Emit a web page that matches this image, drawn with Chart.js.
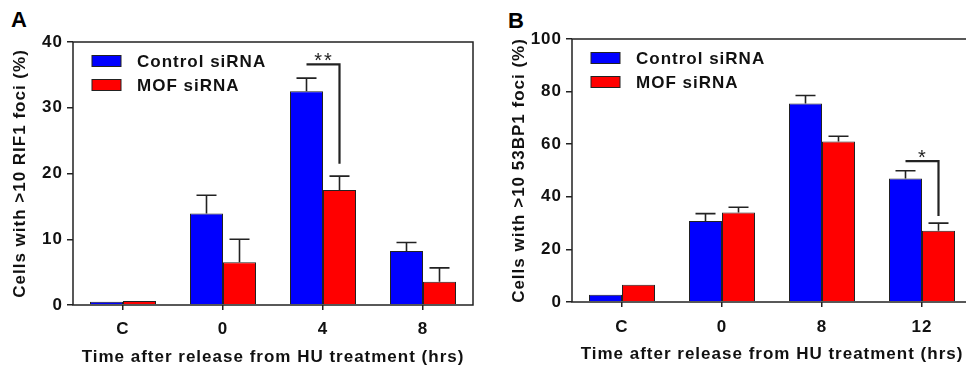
<!DOCTYPE html>
<html>
<head>
<meta charset="utf-8">
<script src="https://cdn.jsdelivr.net/npm/chart.js@4.4.0/dist/chart.umd.min.js"></script>
<style>
    html, body { margin: 0; padding: 0; background: #fff; overflow: hidden; width: 966px; height: 367px; }
    .panel { position: absolute; top: 0; height: 367px; }
    #panelA { left: 0; width: 483px; }
    #panelB { left: 486px; width: 500px; }
    .letter { position: absolute; font: bold 22px Arial, "Liberation Sans", sans-serif; color: #000; line-height: 1; }
</style>
</head>
<body>
<div class="letter" style="left:11px; top:9px;">A</div>
<div class="letter" style="left:508px; top:10px;">B</div>
<div class="panel" id="panelA"><canvas id="chartA" width="483" height="367"></canvas></div>
<div class="panel" id="panelB"><canvas id="chartB" width="500" height="367"></canvas></div>

<script>
// Panel A data (RIF1 foci)
const categoriesA = ['C', '0', '4', '8'];
const controlA = [0.5, 13.9, 32.5, 8.2];
const controlErrA = [0, 2.8, 2.0, 1.3];
const mofA = [0.6, 6.5, 17.5, 3.55];
const mofErrA = [0, 3.5, 2.1, 2.1];

// Panel B data (53BP1 foci)
const categoriesB = ['C', '0', '8', '12'];
const controlB = [2.8, 30.8, 75.5, 47.0];
const controlErrB = [0, 2.8, 3.0, 2.9];
const mofB = [6.6, 34.0, 61.0, 27.1];
const mofErrB = [0, 2.0, 2.0, 2.9];

const seriesNames = ['Control siRNA', 'MOF siRNA'];
const fontFamily = 'Arial, "Liberation Sans", sans-serif';

// draws box frame, error bars, significance bracket and legend
const extrasPlugin = {
    id: 'extras',
    beforeDraw(chart) {
        chart.ctx.letterSpacing = '1px';
    },
    afterDatasetsDraw(chart, args, opts) {
        const ctx = chart.ctx;
        const area = chart.chartArea;
        const y = chart.scales.y;

        // error bars (upper only)
        ctx.save();
        ctx.strokeStyle = '#222';
        ctx.lineWidth = 1.6;
        chart.data.datasets.forEach((ds, i) => {
            const meta = chart.getDatasetMeta(i);
            meta.data.forEach((bar, j) => {
                const err = ds.errors[j];
                if (!err) return;
                const top = y.getPixelForValue(ds.data[j] + err);
                ctx.beginPath();
                ctx.moveTo(bar.x, bar.y);
                ctx.lineTo(bar.x, top);
                ctx.moveTo(bar.x - 10, top);
                ctx.lineTo(bar.x + 10, top);
                ctx.stroke();
            });
        });

        // significance bracket
        const br = opts.bracket;
        const x1 = chart.getDatasetMeta(0).data[br.index].x;
        const x2 = chart.getDatasetMeta(1).data[br.index].x;
        const yTop = y.getPixelForValue(br.top);
        const yBottom = y.getPixelForValue(br.bottom);
        ctx.lineWidth = 2.2;
        ctx.beginPath();
        ctx.moveTo(x1, yTop);
        ctx.lineTo(x2, yTop);
        ctx.lineTo(x2, yBottom);
        ctx.stroke();
        ctx.fillStyle = '#222';
        ctx.font = '20px ' + fontFamily;
        ctx.letterSpacing = '2px';
        ctx.textAlign = 'center';
        ctx.textBaseline = 'middle';
        ctx.fillText(br.label, (x1 + x2) / 2 + 1, yTop - 3);
        ctx.letterSpacing = '1px';

        // frame around plot area
        ctx.strokeStyle = '#222';
        ctx.lineWidth = 1.5;
        ctx.strokeRect(area.left, area.top, area.right - area.left, area.bottom - area.top);

        // legend inside plot
        ctx.font = 'bold 17px ' + fontFamily;
        ctx.textAlign = 'left';
        chart.data.datasets.forEach((ds, i) => {
            const cy = area.top + 19 + i * 24;
            const bx = area.left + 19;
            ctx.fillStyle = ds.backgroundColor;
            ctx.fillRect(bx, cy - 5.5, 29, 11);
            ctx.lineWidth = 1;
            ctx.strokeStyle = '#222';
            ctx.strokeRect(bx, cy - 5.5, 29, 11);
            ctx.fillStyle = '#111';
            ctx.fillText(ds.label, area.left + 64, cy + 1);
        });
        ctx.restore();
    }
};

function makeChart(canvasId, categories, control, controlErr, mof, mofErr, opts) {
    const ctx = document.getElementById(canvasId).getContext('2d');
    return new Chart(ctx, {
        type: 'bar',
        data: {
            labels: categories,
            datasets: [{
                label: seriesNames[0],
                data: control,
                errors: controlErr,
                backgroundColor: '#0000ff',
                borderColor: '#222',
                borderWidth: 1,
            }, {
                label: seriesNames[1],
                data: mof,
                errors: mofErr,
                backgroundColor: '#ff0000',
                borderColor: '#222',
                borderWidth: 1,
            }]
        },
        options: {
            responsive: false,
            animation: false,
            layout: { padding: { top: opts.top, right: opts.right, left: 0, bottom: 0 } },
            datasets: { bar: { categoryPercentage: 0.66, barPercentage: 1.0 } },
            scales: {
                x: {
                    afterFit: (scale) => { scale.height = opts.xHeight; },
                    grid: { display: true, drawOnChartArea: false, offset: false, tickLength: 5, color: '#222', lineWidth: 1.5 },
                    border: { display: false },
                    ticks: { color: '#111', font: { family: fontFamily, size: 17, weight: 'bold' }, padding: opts.xTickPad },
                    title: {
                        display: true,
                        text: 'Time after release from HU treatment (hrs)',
                        color: '#111',
                        font: { family: fontFamily, size: 17, weight: 'bold' },
                        padding: { top: 0, bottom: opts.xTitlePad },
                    },
                },
                y: {
                    min: 0,
                    max: opts.max,
                    afterFit: (scale) => { scale.width = opts.yWidth; },
                    grid: { display: true, drawOnChartArea: false, tickLength: 6, color: '#222', lineWidth: 1.5 },
                    border: { display: false },
                    ticks: { stepSize: opts.step, color: '#111', font: { family: fontFamily, size: 17, weight: 'bold' }, padding: 4 },
                    title: {
                        display: true,
                        text: opts.yTitle,
                        color: '#111',
                        font: { family: fontFamily, size: 17, weight: 'bold' },
                        padding: { top: opts.yTitlePad, bottom: 0 },
                    },
                },
            },
            plugins: {
                legend: { display: false },
                tooltip: { enabled: false },
                extras: { bracket: opts.bracket },
            },
        },
        plugins: [extrasPlugin],
    });
}

makeChart('chartA', categoriesA, controlA, controlErrA, mofA, mofErrA, {
    top: 42, right: 10, xHeight: 62, yWidth: 73, max: 40, step: 10, xTickPad: 9,
    yTitle: 'Cells with >10 RIF1 foci (%)', yTitlePad: 10, xTitlePad: -1,
    bracket: { index: 2, top: 36.6, bottom: 21.5, label: '**' },
});

makeChart('chartB', categoriesB, controlB, controlErrB, mofB, mofErrB, {
    top: 39, right: 14, xHeight: 65, yWidth: 86, max: 100, step: 20, xTickPad: 10,
    yTitle: 'Cells with >10 53BP1 foci (%)', yTitlePad: 23, xTitlePad: 2,
    bracket: { index: 3, top: 53.6, bottom: 32.7, label: '*' },
});
</script>
</body>
</html>
